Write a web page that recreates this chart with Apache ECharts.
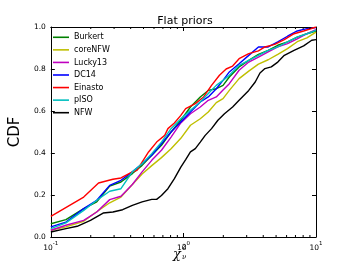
<!DOCTYPE html>
<html><head><meta charset="utf-8">
<script src="https://cdn.jsdelivr.net/npm/echarts@6/dist/echarts.min.js"></script>
<style>html,body{margin:0;padding:0;background:#fff}#c{width:352px;height:264px}</style>
</head><body><div id="c"></div>
<script>
const seriesNames = ['Burkert','coreNFW','Lucky13','DC14','Einasto','pISO','NFW'];
const xGrid = [0.1,0.13,0.177,0.222,0.278,0.338,0.412,0.488,0.577,0.683,0.807,0.956,1.13,1.34,1.54,1.77,1.99,2.22,2.63,3.11,3.68,4.36,5.15,6.1,7.22,8.54,10];
const burkertY = [0.063,0.083,0.135,0.167,0.242,0.262,0.302,0.341,0.389,0.437,0.5,0.556,0.619,0.667,0.698,0.706,0.722,0.762,0.81,0.841,0.87,0.889,0.913,0.929,0.952,0.968,0.981];
const coreNFWY = [0.032,0.048,0.075,0.12,0.163,0.19,0.25,0.30,0.34,0.378,0.42,0.47,0.532,0.563,0.595,0.64,0.659,0.698,0.754,0.79,0.823,0.844,0.87,0.897,0.93,0.948,0.976];
const lucky13Y = [0.032,0.056,0.079,0.119,0.178,0.194,0.25,0.31,0.365,0.413,0.476,0.543,0.587,0.619,0.651,0.667,0.70,0.73,0.794,0.833,0.857,0.881,0.905,0.921,0.944,0.968,0.987];
const dc14Y = [0.048,0.071,0.135,0.175,0.246,0.27,0.31,0.349,0.389,0.444,0.5,0.548,0.595,0.643,0.667,0.706,0.746,0.786,0.825,0.865,0.905,0.905,0.929,0.956,0.981,0.992,0.997];
const pisoY = [0.04,0.067,0.127,0.175,0.218,0.23,0.31,0.349,0.397,0.452,0.516,0.563,0.603,0.643,0.683,0.722,0.746,0.77,0.817,0.841,0.865,0.889,0.905,0.929,0.952,0.968,0.984];
const einastoX = [0.1,0.177,0.229,0.294,0.338,0.412,0.446,0.488,0.546,0.628,0.723,0.764,0.855,0.956,1.04,1.23,1.42,1.63,1.87,2.1,2.35,2.63,3.11,3.68,4.12,4.88,5.77,6.83,8.07,10];
const einastoY = [0.098,0.19,0.257,0.275,0.281,0.31,0.317,0.357,0.405,0.452,0.484,0.516,0.543,0.579,0.611,0.635,0.667,0.722,0.77,0.80,0.814,0.849,0.873,0.886,0.905,0.917,0.94,0.968,0.981,1.0];
const nfwX = [0.1,0.13,0.158,0.199,0.248,0.294,0.348,0.412,0.488,0.577,0.628,0.683,0.764,0.855,0.956,1.04,1.13,1.23,1.34,1.46,1.63,1.82,2.04,2.35,2.63,3.11,3.48,3.78,4.12,4.6,5.15,5.77,6.83,8.07,9.29,10];
const nfwY = [0.024,0.04,0.051,0.079,0.114,0.119,0.13,0.151,0.167,0.179,0.179,0.198,0.23,0.278,0.333,0.368,0.405,0.421,0.452,0.484,0.516,0.556,0.587,0.619,0.651,0.698,0.738,0.781,0.802,0.81,0.833,0.865,0.889,0.91,0.937,0.94];
const yTicks = [0.0,0.2,0.4,0.6,0.8,1.0];
const minorX = [0.2,0.3,0.4,0.5,0.6,0.7,0.8,0.9,2,3,4,5,6,7,8,9];
const colors = ['#008000','#bfbf00','#bf00bf','#0000ff','#ff0000','#00bfbf','#000000'];

const zip = (xs, ys) => xs.map((x, i) => [x, ys[i]]);
const dataSets = [
  zip(xGrid, burkertY), zip(xGrid, coreNFWY), zip(xGrid, lucky13Y), zip(xGrid, dc14Y),
  zip(einastoX, einastoY), zip(xGrid, pisoY), zip(nfwX, nfwY)
];
const FONT = 'DejaVu Sans';
const chart = echarts.init(document.getElementById('c'), null, {renderer: 'canvas'});
const logLabel = v => '{b|10}{s|' + Math.round(Math.log10(v)) + '}';
const series = seriesNames.map((n, i) => ({
  name: n, type: 'line', data: dataSets[i], showSymbol: false, symbol: 'none',
  lineStyle: {width: 1.4, color: colors[i]}, itemStyle: {color: colors[i]},
  xAxisIndex: 0, yAxisIndex: 0, animation: false, z: 3 + i
}));
series.push({
  type: 'custom', xAxisIndex: 0, yAxisIndex: 0, silent: true, animation: false, z: 20,
  data: minorX.map(v => [v]),
  renderItem: (params, api) => {
    const b = api.coord([api.value(0), 0]);
    const t = api.coord([api.value(0), 1]);
    const st = {stroke: '#000', lineWidth: 1};
    return {type: 'group', children: [
      {type: 'line', shape: {x1: b[0], y1: b[1], x2: b[0], y2: b[1] - 2}, style: st},
      {type: 'line', shape: {x1: t[0], y1: t[1], x2: t[0], y2: t[1] + 2}, style: st}
    ]};
  }
});
const tickStyle = {inside: true, length: 4, lineStyle: {color: '#000', width: 1}};
chart.setOption({
  animation: false,
  title: {text: 'Flat priors', left: 180, top: 11, textAlign: 'center',
    textStyle: {fontFamily: FONT, fontSize: 11, fontWeight: 'normal', color: '#000'}},
  grid: {left: 43, right: 36, top: 27, bottom: 27, containLabel: false},
  legend: {data: seriesNames, orient: 'vertical', left: 53, top: 31, padding: 0,
    icon: 'rect', itemWidth: 16, itemHeight: 1.6, itemGap: 0,
    textStyle: {fontFamily: FONT, fontSize: 8, color: '#000', lineHeight: 12.57, height: 12.57}},
  xAxis: [
    {type: 'log', logBase: 10, min: 0.1, max: 10, position: 'bottom',
      axisLine: {show: true, onZero: false, lineStyle: {color: '#000', width: 1}},
      axisTick: tickStyle, splitLine: {show: false}, minorTick: {show: false},
      axisLabel: {formatter: logLabel, margin: 4, rich: {
        b: {fontFamily: FONT, fontSize: 7.5, color: '#000', verticalAlign: 'bottom', lineHeight: 11},
        s: {fontFamily: FONT, fontSize: 5.5, color: '#000', verticalAlign: 'top', lineHeight: 11}}}},
    {type: 'log', logBase: 10, min: 0.1, max: 10, position: 'top',
      axisLine: {show: true, onZero: false, lineStyle: {color: '#000', width: 1}},
      axisTick: tickStyle, axisLabel: {show: false}, splitLine: {show: false}}
  ],
  yAxis: [
    {type: 'value', min: 0, max: 1, interval: 0.2, position: 'left',
      name: 'CDF', nameLocation: 'middle', nameGap: 17,
      nameTextStyle: {fontFamily: FONT, fontSize: 15, color: '#000'},
      axisLine: {show: true, onZero: false, lineStyle: {color: '#000', width: 1}},
      axisTick: tickStyle, splitLine: {show: false},
      axisLabel: {formatter: v => v.toFixed(1), margin: 5, fontFamily: FONT, fontSize: 7.5, color: '#000'}},
    {type: 'value', min: 0, max: 1, interval: 0.2, position: 'right',
      axisLine: {show: true, onZero: false, lineStyle: {color: '#000', width: 1}},
      axisTick: tickStyle, axisLabel: {show: false}, splitLine: {show: false}}
  ],
  graphic: [
    {type: 'text', left: 173, top: 248, style: {text: 'χ', font: 'italic 13px DejaVu Serif', fill: '#000'}},
    {type: 'text', left: 182, top: 244, style: {text: '2', font: '7px DejaVu Sans', fill: '#000'}},
    {type: 'text', left: 182, top: 254, style: {text: 'ν', font: 'italic 7px DejaVu Serif', fill: '#000'}}
  ],
  series: series
});
</script></body></html>
